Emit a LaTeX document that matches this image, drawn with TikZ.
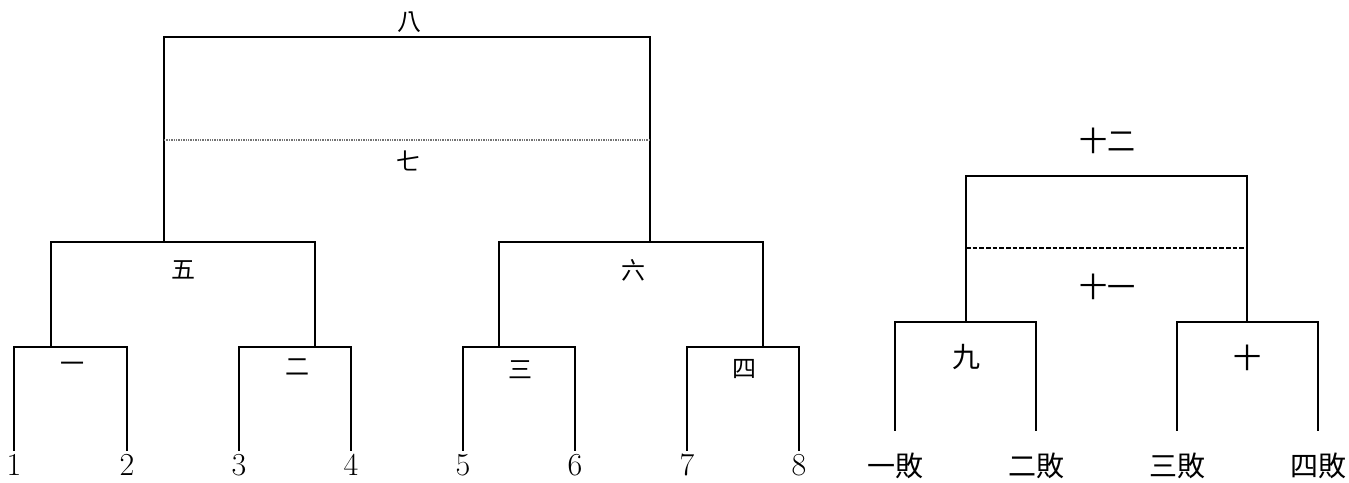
\documentclass[tikz,border=0pt]{standalone}
\usepackage{fontspec}
\newfontfamily\cjk{Noto Sans CJK TC}
\usetikzlibrary{positioning}
\tikzset{
  bracket/.style={line width=1.5pt, line cap=rect},
  splitline/.style={line width=1.2pt, black!55, dash pattern=on 1pt off 0.8pt},
  splitdash/.style={line width=1.4pt, dash pattern=on 3.5pt off 1.5pt},
  seedlabel/.style={inner sep=0pt, font=\fontsize{24}{24}\selectfont},
  roundlabel/.style={inner sep=0pt, font=\cjk\fontsize{18}{18}\selectfont},
  finallabel/.style={inner sep=0pt, font=\cjk\fontsize{21}{21}\selectfont},
}

\begin{document}
\begin{tikzpicture}[x=0.75pt,y=-0.75pt]
  \path[use as bounding box] (0,0) rectangle (1349,482);

  % main bracket: seeds
  \foreach \x [count=\i] in {14,127,239,351,463,575,687,799} {
    \coordinate (l\i) at (\x,450);
    \node[seedlabel] (n\i) at (\x,465) {\i};
  }
  \coordinate (j1) at (51,347);
  \coordinate (j2) at (315,347);
  \coordinate (j3) at (499,347);
  \coordinate (j4) at (763,347);
  \coordinate (j5) at (164,242);
  \coordinate (j6) at (650,242);
  \coordinate (j8) at (407,37);

  \draw[bracket] (l1) |- (j1) -| (l2);
  \draw[bracket] (l3) |- (j2) -| (l4);
  \draw[bracket] (l5) |- (j3) -| (l6);
  \draw[bracket] (l7) |- (j4) -| (l8);
  \draw[bracket] (j1) |- (j5) -| (j2);
  \draw[bracket] (j3) |- (j6) -| (j4);
  \draw[bracket] (j5) |- (j8) -| (j6);

  \coordinate (d1) at (164,140);
  \coordinate (d2) at (650,140);
  \draw[splitline] (d1) -- (d2);

  \node[roundlabel] (r1) at (72,367) {一};
  \node[roundlabel] (r2) at (297,367) {二};
  \node[roundlabel] (r3) at (520,370) {三};
  \node[roundlabel] (r4) at (744,369) {四};
  \node[roundlabel] (r5) at (183,270) {五};
  \node[roundlabel] (r6) at (633,270) {六};
  \node[roundlabel] (r7) at (408,161) {七};
  \node[roundlabel] (r8) at (409,22) {八};

  % losers bracket
  \foreach \x/\t [count=\i] in {895/一,1036/二,1177/三,1318/四} {
    \coordinate (k\i) at (\x,430);
    \node[finallabel] (b\i) at (\x,466) {\t 敗};
  }
  \coordinate (j9) at (966,322);
  \coordinate (j10) at (1247,322);
  \coordinate (j12) at (1107,176);

  \draw[bracket] (k1) |- (j9) -| (k2);
  \draw[bracket] (k3) |- (j10) -| (k4);
  \draw[bracket] (j9) |- (j12) -| (j10);

  \coordinate (e1) at (966,248);
  \coordinate (e2) at (1247,248);
  \draw[splitdash] (e1) -- (e2);

  \node[finallabel] (r9) at (966,357) {九};
  \node[finallabel] (r10) at (1247,358) {十};
  \node[finallabel] (r11) at (1107,287) {十一};
  \node[finallabel] (r12) at (1107,141) {十二};
\end{tikzpicture}
\end{document}
